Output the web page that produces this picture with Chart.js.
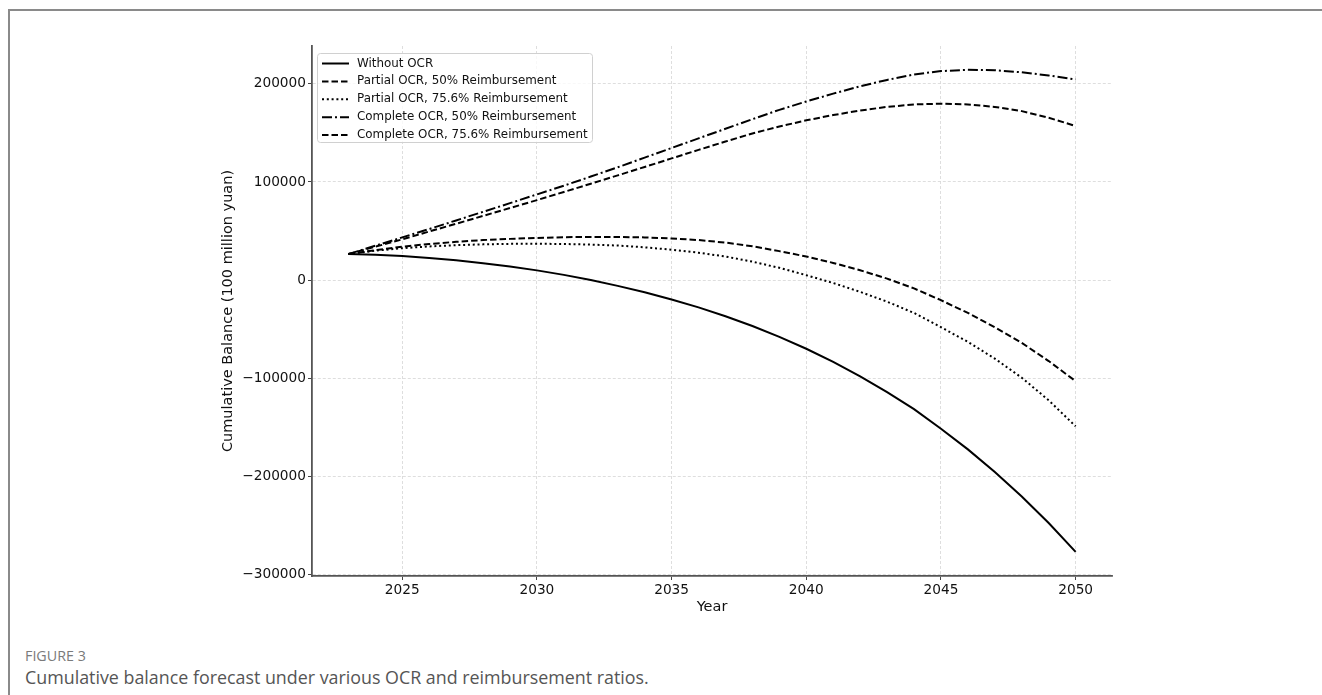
<!DOCTYPE html>
<html>
<head>
<meta charset="utf-8">
<title>Cumulative balance forecast</title>
<script src="https://cdn.jsdelivr.net/npm/chart.js@4"></script>
<style>
  html, body { margin: 0; padding: 0; background: #fff; }
  body { width: 1322px; height: 695px; position: relative; overflow: hidden; }
  #frame {
    position: absolute; left: 8px; top: 9px; width: 1400px; height: 800px;
    border-left: 2px solid #8a8a8a; border-top: 2px solid #8a8a8a;
  }
  #chart-wrap { position: absolute; left: 0; top: 0; width: 1322px; height: 640px; }
  .fig-label {
    position: absolute; left: 25px; top: 646px;
    font: 14.3px "Open Sans", sans-serif; color: #7a7a7a;
  }
  .fig-caption {
    position: absolute; left: 25px; top: 665px;
    font: 17.85px "Open Sans", sans-serif; color: #555;
  }
</style>
</head>
<body>
<div id="frame"></div>
<div id="chart-wrap"><canvas id="myChart" width="1322" height="640"></canvas></div>
<div class="fig-label">FIGURE 3</div>
<div class="fig-caption">Cumulative balance forecast under various OCR and reimbursement ratios.</div>

<script>
"use strict";

const years = [
  2023, 2024, 2025, 2026, 2027, 2028, 2029, 2030, 2031, 2032,
  2033, 2034, 2035, 2036, 2037, 2038, 2039, 2040, 2041, 2042,
  2043, 2044, 2045, 2046, 2047, 2048, 2049, 2050,
];

const withoutOcr = [
  26500, 25800, 24500, 22600, 20100, 17200, 13800, 9900, 5300, 0,
  -5900, -12400, -19700, -27800, -36800, -46800, -57800, -70000, -83400, -98100,
  -114100, -131500, -151500, -172500, -195500, -220500, -247500, -277000,
];

const partial50 = [
  26500, 30500, 34000, 36800, 39000, 40800, 42000, 43000, 43700, 44000,
  44000, 43500, 42400, 40800, 38200, 34500, 29500, 24000, 17500, 10000,
  1500, -8500, -20500, -33500, -48000, -64000, -82500, -103000,
];

const partial756 = [
  26500, 30000, 32500, 34300, 35600, 36400, 36900, 37000, 36800, 36200,
  35200, 33400, 31000, 27900, 24000, 18800, 12500, 5000, -3000, -12000,
  -22000, -33500, -48000, -63000, -80000, -99500, -122500, -149000,
];

const complete50 = [
  26500, 35000, 43500, 52000, 60800, 69600, 78400, 87300, 96200, 105500,
  115000, 124800, 134600, 144400, 154200, 164000, 173500, 182000, 190000, 197500,
  204000, 209500, 213000, 214300, 213800, 211800, 208500, 204500,
];

const complete756 = [
  26500, 34000, 41500, 49500, 57400, 65400, 73400, 81500, 89800, 98200,
  106700, 115300, 124000, 132700, 141200, 149400, 156500, 162800, 168200, 172800,
  176500, 179000, 179800, 179000, 176500, 172200, 165500, 157000,
];

const seriesNames = [
  "Without OCR",
  "Partial OCR, 50% Reimbursement",
  "Partial OCR, 75.6% Reimbursement",
  "Complete OCR, 50% Reimbursement",
  "Complete OCR, 75.6% Reimbursement",
];

const xTicks = [2025, 2030, 2035, 2040, 2045, 2050];
const yTicks = [-300000, -200000, -100000, 0, 100000, 200000];

// line styles: solid, dashed, dotted, dash-dot
const solid = [];
const dashed = [6.5, 3];
const dotted = [2, 2.8];
const dashDot = [10, 3, 2, 3];

const allSeries = [withoutOcr, partial50, partial756, complete50, complete756];
const dashes = [solid, dashed, dotted, dashDot, dashed];

function toPoints(values) {
  return values.map((v, i) => ({ x: years[i], y: v }));
}

let datasets = [];
for (let i in allSeries) {
  datasets.push({
    label: seriesNames[i],
    data: toPoints(allSeries[i]),
    borderColor: "#000",
    borderWidth: 2,
    borderDash: dashes[i],
    pointRadius: 0,
    tension: 0,
    fill: false,
  });
}

const tickFont = { family: "DejaVu Sans", size: 13.7 };
const titleFont = { family: "DejaVu Sans", size: 14.5 };

function minusSign(v) {
  return v < 0 ? "\u2212" + Math.abs(v) : String(v);
}

// legend box inside the plot, upper left
const innerLegend = {
  id: "innerLegend",
  afterDraw(chart) {
    const ctx = chart.ctx;
    const left = 317.5, top = 53.5, w = 275, h = 89;
    ctx.save();
    ctx.fillStyle = "rgba(255,255,255,0.8)";
    ctx.strokeStyle = "#d0d0d0";
    ctx.lineWidth = 1;
    ctx.beginPath();
    ctx.roundRect(left, top, w, h, 3);
    ctx.fill();
    ctx.stroke();

    ctx.font = "11.9px 'DejaVu Sans'";
    ctx.textBaseline = "middle";
    ctx.fillStyle = "#111";
    chart.data.datasets.forEach((ds, i) => {
      let y = 63.5 + i * 17.9;
      ctx.strokeStyle = "#000";
      ctx.lineWidth = 2;
      ctx.setLineDash(ds.borderDash);
      ctx.beginPath();
      ctx.moveTo(322, y);
      ctx.lineTo(349, y);
      ctx.stroke();
      ctx.setLineDash([]);
      ctx.fillText(ds.label, 357, y);
    });
    ctx.restore();
  },
};

const ctx = document.getElementById("myChart").getContext("2d");
const myChart = new Chart(ctx, {
  type: "line",
  data: { datasets: datasets },
  plugins: [innerLegend],
  options: {
    responsive: false,
    animation: false,
    devicePixelRatio: 1,
    layout: { padding: { left: 200, right: 210, top: 46, bottom: 20 } },
    plugins: {
      legend: { display: false },
      tooltip: { enabled: false },
    },
    scales: {
      x: {
        type: "linear",
        min: 2021.65,
        max: 2051.35,
        afterBuildTicks: (s) => { s.ticks = xTicks.map((v) => ({ value: v })); },
        afterFit: (s) => { s.height = 44; },
        ticks: {
          font: tickFont,
          color: "#111",
          padding: 2,
          maxRotation: 0,
          autoSkip: false,
          callback: (v) => String(v),
        },
        grid: {
          color: "#d6d6d6",
          lineWidth: 0.8,
          tickLength: 4,
          tickColor: "#444",
          tickWidth: 1,
          tickBorderDash: [],
        },
        border: { color: "#555", width: 1.8, dash: [3, 2] },
        title: {
          display: true,
          text: "Year",
          font: titleFont,
          color: "#111",
          padding: { top: 0, bottom: 4 },
        },
      },
      y: {
        type: "linear",
        min: -301550,
        max: 238550,
        afterBuildTicks: (s) => { s.ticks = yTicks.map((v) => ({ value: v })); },
        afterFit: (s) => { s.width = 112; },
        ticks: {
          font: tickFont,
          color: "#111",
          padding: 2,
          autoSkip: false,
          callback: minusSign,
        },
        grid: {
          color: "#d6d6d6",
          lineWidth: 0.8,
          tickLength: 4,
          tickColor: "#444",
          tickWidth: 1,
          tickBorderDash: [],
        },
        border: { color: "#555", width: 1.8, dash: [3, 2] },
        title: {
          display: true,
          text: "Cumulative Balance (100 million yuan)",
          font: titleFont,
          color: "#111",
          padding: { top: 19.5, bottom: 0 },
        },
      },
    },
  },
});
</script>
</body>
</html>
